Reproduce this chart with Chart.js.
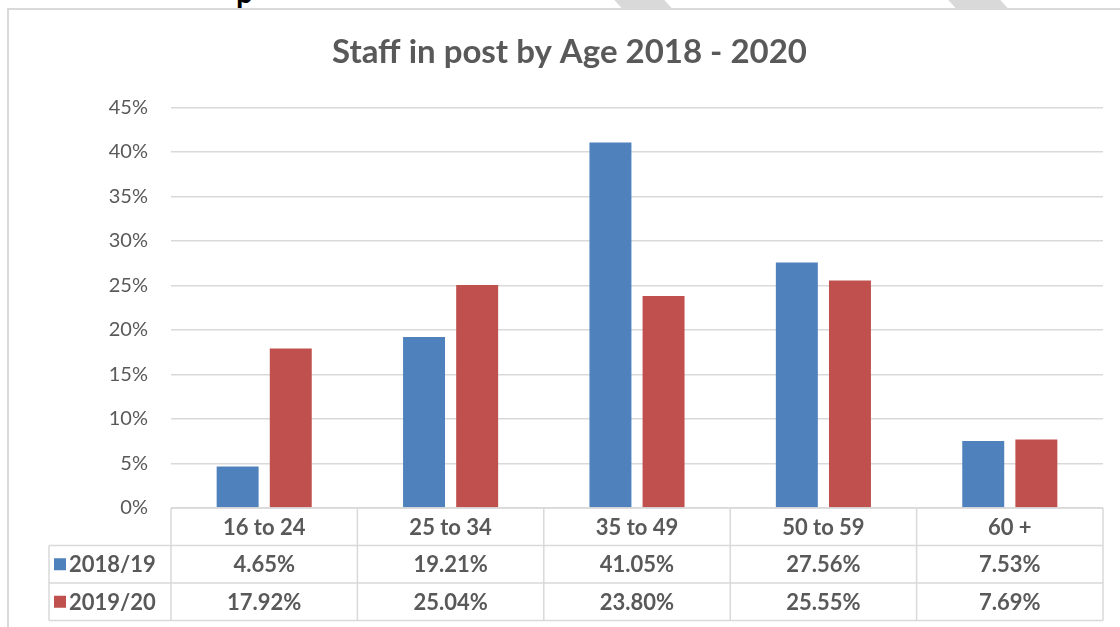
<!DOCTYPE html>
<html lang="en">
<head>
  <meta charset="UTF-8" />
  <title>Staff in post by Age 2018 - 2020</title>
  <script src="https://cdn.jsdelivr.net/npm/chart.js"></script>
  <style>
    body {
      margin: 0;
      background: #ffffff;
      font-family: 'Lato', sans-serif;
    }

    .page {
      position: relative;
      width: 1120px;
      height: 627px;
      overflow: hidden;
    }

    .stripe {
      position: absolute;
      top: -2px;
      height: 10px;
      background: #d9d9d9;
      transform: skewX(42deg);
    }

    .heading-tail {
      position: absolute;
      left: 236px;
      top: -27px;
      font: bold 30px 'Lato', sans-serif;
      color: #000;
    }

    .frame {
      position: absolute;
      left: 7px;
      top: 8px;
      width: 1120px;
      height: 640px;
      border-left: 2px solid #d9d9d9;
      border-top: 2px solid #d9d9d9;
    }

    #ageChart {
      position: absolute;
      left: 0;
      top: 0;
    }
  </style>
</head>
<body>
  <div class="page">
    <div class="stripe" style="left: 617px; width: 50px;"></div>
    <div class="stripe" style="left: 951px; width: 52px;"></div>
    <div class="heading-tail">p</div>
    <div class="frame"></div>
    <canvas id="ageChart" width="1120" height="627"></canvas>
  </div>

  <script>
    const ageGroups = ['16 to 24', '25 to 34', '35 to 49', '50 to 59', '60 +'];
    const seriesNames = ['2018/19', '2019/20'];
    const staff2018 = [4.65, 19.21, 41.05, 27.56, 7.53];
    const staff2019 = [17.92, 25.04, 23.80, 25.55, 7.69];
    const seriesColors = ['#4f81bd', '#c0504d'];

    const textGrey = '#595959';
    const lineGrey = '#d9d9d9';

    // data table under the plot, lined up with the category scale
    const dataTable = {
      id: 'dataTable',
      afterDraw(chart) {
        const { ctx, chartArea } = chart;
        const x = chart.scales.x;
        const colW = (chartArea.right - chartArea.left) / ageGroups.length;
        const top = chartArea.bottom;
        const rowH = 37.5;
        const legendLeft = 49;
        const series = [staff2018, staff2019];

        ctx.save();
        ctx.strokeStyle = lineGrey;
        ctx.lineWidth = 1.5;

        // horizontal lines
        ctx.beginPath();
        ctx.moveTo(chartArea.left, top);
        ctx.lineTo(chartArea.right, top);
        for (let r = 1; r <= 3; r++) {
          ctx.moveTo(legendLeft, top + r * rowH);
          ctx.lineTo(chartArea.right, top + r * rowH);
        }
        // vertical lines
        ctx.moveTo(legendLeft, top + rowH);
        ctx.lineTo(legendLeft, top + 3 * rowH);
        for (let c = 0; c <= ageGroups.length; c++) {
          const cx = chartArea.left + c * colW;
          ctx.moveTo(cx, top);
          ctx.lineTo(cx, top + 3 * rowH);
        }
        ctx.stroke();

        ctx.fillStyle = textGrey;
        ctx.font = 'bold 22px Lato, sans-serif';
        ctx.textAlign = 'center';
        ctx.textBaseline = 'middle';

        ageGroups.forEach((g, i) => {
          const cx = x.getPixelForValue(i);
          ctx.fillText(g, cx, top + rowH / 2 + 1);
          series.forEach((vals, s) => {
            ctx.fillText(vals[i].toFixed(2) + '%', cx, top + rowH * (s + 1.5) + 1);
          });
        });

        // legend keys in the first column
        ctx.textAlign = 'left';
        seriesNames.forEach((name, s) => {
          const cy = top + rowH * (s + 1.5);
          ctx.fillStyle = seriesColors[s];
          ctx.fillRect(54, cy - 6, 12, 12);
          ctx.fillStyle = textGrey;
          ctx.fillText(name, 69, cy + 1);
        });
        ctx.restore();
      }
    };

    new Chart(document.getElementById('ageChart'), {
      type: 'bar',
      data: {
        labels: ageGroups,
        datasets: [
          {
            label: seriesNames[0],
            data: staff2018,
            backgroundColor: seriesColors[0],
            categoryPercentage: 0.57,
            barPercentage: 0.79
          },
          {
            label: seriesNames[1],
            data: staff2019,
            backgroundColor: seriesColors[1],
            categoryPercentage: 0.57,
            barPercentage: 0.79
          }
        ]
      },
      options: {
        responsive: false,
        animation: false,
        layout: {
          padding: { left: 36, right: 17, top: 0, bottom: 119 }
        },
        plugins: {
          legend: { display: false },
          tooltip: { enabled: false },
          title: {
            display: true,
            text: 'Staff in post by Age 2018 - 2020',
            color: textGrey,
            font: { family: 'Lato', size: 33, weight: 'bold', lineHeight: 1.1 },
            padding: { top: 34, bottom: 37 }
          }
        },
        scales: {
          x: {
            display: false
          },
          y: {
            min: 0,
            max: 45,
            afterFit(scale) {
              scale.width = 135;
            },
            ticks: {
              stepSize: 5,
              padding: 23,
              color: textGrey,
              font: { family: 'Lato', size: 20 },
              callback: v => v + '%'
            },
            grid: {
              color: lineGrey,
              lineWidth: 1.5,
              drawTicks: false
            },
            border: { display: false }
          }
        }
      },
      plugins: [dataTable]
    });
  </script>
</body>
</html>
